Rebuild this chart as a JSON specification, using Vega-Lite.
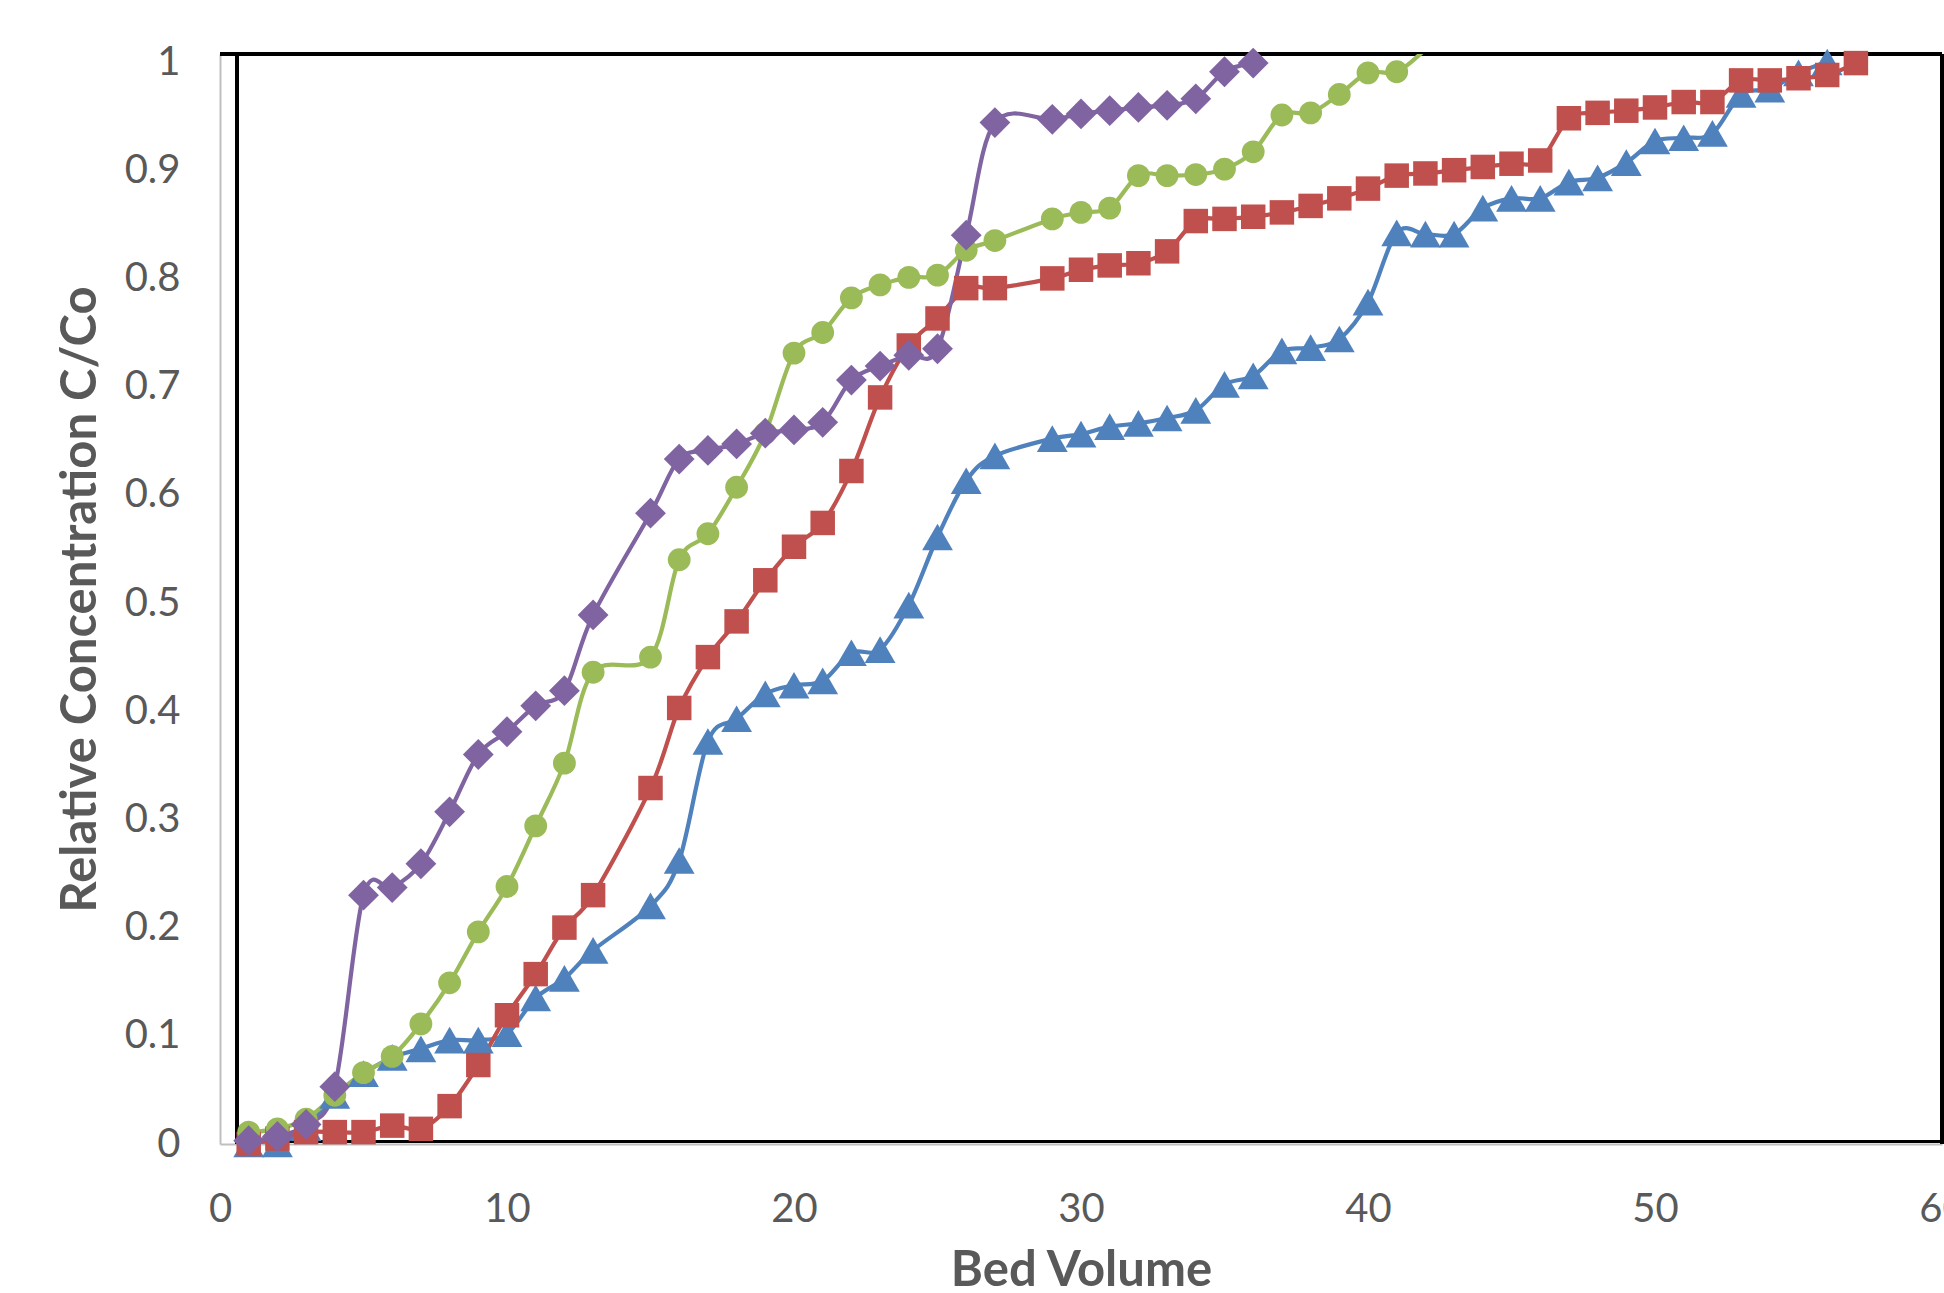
{
  "$schema": "https://vega.github.io/schema/vega-lite/v6.json",
  "width": 1722,
  "height": 1090,
  "autosize": {"type": "none"},
  "padding": {"left": 220, "top": 54, "right": 2, "bottom": 149},
  "background": "white",
  "config": {
    "font": "Lato",
    "view": {"stroke": null},
    "axis": {"grid": false, "ticks": false, "tickSize": 0, "domainColor": "#BFBFBF", "domainWidth": 2, "labelColor": "#595959", "labelFont": "Lato", "labelFontSize": 40, "titleColor": "#595959", "titleFont": "Lato", "titleFontSize": 49, "titleFontWeight": "bold", "labelOverlap": false, "labelFlush": false, "labelBound": false}
  },
  "data": {"values": [
    {"s":"S1","x":1,"c":0},{"s":"S1","x":2,"c":0},{"s":"S1","x":3,"c":0.015},{"s":"S1","x":4,"c":0.045},{"s":"S1","x":5,"c":0.065},{"s":"S1","x":6,"c":0.08},{"s":"S1","x":7,"c":0.088},{"s":"S1","x":8,"c":0.096},{"s":"S1","x":9,"c":0.096},{"s":"S1","x":10,"c":0.102},{"s":"S1","x":11,"c":0.135},{"s":"S1","x":12,"c":0.153},{"s":"S1","x":13,"c":0.179},{"s":"S1","x":15,"c":0.22},{"s":"S1","x":16,"c":0.262},{"s":"S1","x":17,"c":0.372},{"s":"S1","x":18,"c":0.393},{"s":"S1","x":19,"c":0.416},{"s":"S1","x":20,"c":0.424},{"s":"S1","x":21,"c":0.428},{"s":"S1","x":22,"c":0.454},{"s":"S1","x":23,"c":0.457},{"s":"S1","x":24,"c":0.498},{"s":"S1","x":25,"c":0.561},{"s":"S1","x":26,"c":0.613},{"s":"S1","x":27,"c":0.636},{"s":"S1","x":29,"c":0.652},{"s":"S1","x":30,"c":0.656},{"s":"S1","x":31,"c":0.663},{"s":"S1","x":32,"c":0.666},{"s":"S1","x":33,"c":0.671},{"s":"S1","x":34,"c":0.678},{"s":"S1","x":35,"c":0.702},{"s":"S1","x":36,"c":0.71},{"s":"S1","x":37,"c":0.733},{"s":"S1","x":38,"c":0.736},{"s":"S1","x":39,"c":0.744},{"s":"S1","x":40,"c":0.778},{"s":"S1","x":41,"c":0.842},{"s":"S1","x":42,"c":0.841},{"s":"S1","x":43,"c":0.841},{"s":"S1","x":44,"c":0.865},{"s":"S1","x":45,"c":0.874},{"s":"S1","x":46,"c":0.874},{"s":"S1","x":47,"c":0.889},{"s":"S1","x":48,"c":0.893},{"s":"S1","x":49,"c":0.907},{"s":"S1","x":50,"c":0.927},{"s":"S1","x":51,"c":0.93},{"s":"S1","x":52,"c":0.934},{"s":"S1","x":53,"c":0.97},{"s":"S1","x":54,"c":0.975},{"s":"S1","x":55,"c":0.99},{"s":"S1","x":56,"c":1.0},
    {"s":"S2","x":1,"c":0},{"s":"S2","x":2,"c":0.005},{"s":"S2","x":3,"c":0.011},{"s":"S2","x":4,"c":0.011},{"s":"S2","x":5,"c":0.011},{"s":"S2","x":6,"c":0.017},{"s":"S2","x":7,"c":0.014},{"s":"S2","x":8,"c":0.035},{"s":"S2","x":9,"c":0.073},{"s":"S2","x":10,"c":0.119},{"s":"S2","x":11,"c":0.157},{"s":"S2","x":12,"c":0.2},{"s":"S2","x":13,"c":0.23},{"s":"S2","x":15,"c":0.329},{"s":"S2","x":16,"c":0.403},{"s":"S2","x":17,"c":0.45},{"s":"S2","x":18,"c":0.483},{"s":"S2","x":19,"c":0.521},{"s":"S2","x":20,"c":0.552},{"s":"S2","x":21,"c":0.574},{"s":"S2","x":22,"c":0.622},{"s":"S2","x":23,"c":0.69},{"s":"S2","x":24,"c":0.738},{"s":"S2","x":25,"c":0.763},{"s":"S2","x":26,"c":0.791},{"s":"S2","x":27,"c":0.791},{"s":"S2","x":29,"c":0.8},{"s":"S2","x":30,"c":0.808},{"s":"S2","x":31,"c":0.812},{"s":"S2","x":32,"c":0.814},{"s":"S2","x":33,"c":0.825},{"s":"S2","x":34,"c":0.853},{"s":"S2","x":35,"c":0.855},{"s":"S2","x":36,"c":0.857},{"s":"S2","x":37,"c":0.861},{"s":"S2","x":38,"c":0.867},{"s":"S2","x":39,"c":0.874},{"s":"S2","x":40,"c":0.883},{"s":"S2","x":41,"c":0.895},{"s":"S2","x":42,"c":0.897},{"s":"S2","x":43,"c":0.9},{"s":"S2","x":44,"c":0.903},{"s":"S2","x":45,"c":0.906},{"s":"S2","x":46,"c":0.909},{"s":"S2","x":47,"c":0.948},{"s":"S2","x":48,"c":0.953},{"s":"S2","x":49,"c":0.955},{"s":"S2","x":50,"c":0.958},{"s":"S2","x":51,"c":0.963},{"s":"S2","x":52,"c":0.963},{"s":"S2","x":53,"c":0.983},{"s":"S2","x":54,"c":0.983},{"s":"S2","x":55,"c":0.985},{"s":"S2","x":56,"c":0.988},{"s":"S2","x":57,"c":0.999},
    {"s":"S3","x":1,"c":0.011},{"s":"S3","x":2,"c":0.014},{"s":"S3","x":3,"c":0.023},{"s":"S3","x":4,"c":0.045},{"s":"S3","x":5,"c":0.066},{"s":"S3","x":6,"c":0.081},{"s":"S3","x":7,"c":0.111},{"s":"S3","x":8,"c":0.149},{"s":"S3","x":9,"c":0.196},{"s":"S3","x":10,"c":0.238},{"s":"S3","x":11,"c":0.294},{"s":"S3","x":12,"c":0.352},{"s":"S3","x":13,"c":0.436},{"s":"S3","x":15,"c":0.45},{"s":"S3","x":16,"c":0.54},{"s":"S3","x":17,"c":0.564},{"s":"S3","x":18,"c":0.607},{"s":"S3","x":19,"c":0.657},{"s":"S3","x":20,"c":0.731},{"s":"S3","x":21,"c":0.75},{"s":"S3","x":22,"c":0.782},{"s":"S3","x":23,"c":0.794},{"s":"S3","x":24,"c":0.801},{"s":"S3","x":25,"c":0.803},{"s":"S3","x":26,"c":0.826},{"s":"S3","x":27,"c":0.835},{"s":"S3","x":29,"c":0.855},{"s":"S3","x":30,"c":0.861},{"s":"S3","x":31,"c":0.865},{"s":"S3","x":32,"c":0.895},{"s":"S3","x":33,"c":0.895},{"s":"S3","x":34,"c":0.896},{"s":"S3","x":35,"c":0.901},{"s":"S3","x":36,"c":0.917},{"s":"S3","x":37,"c":0.951},{"s":"S3","x":38,"c":0.953},{"s":"S3","x":39,"c":0.97},{"s":"S3","x":40,"c":0.99},{"s":"S3","x":41,"c":0.991},{"s":"S3","x":42,"c":1.012},
    {"s":"S4","x":1,"c":0.003},{"s":"S4","x":2,"c":0.007},{"s":"S4","x":3,"c":0.018},{"s":"S4","x":4,"c":0.053},{"s":"S4","x":5,"c":0.23},{"s":"S4","x":6,"c":0.237},{"s":"S4","x":7,"c":0.259},{"s":"S4","x":8,"c":0.307},{"s":"S4","x":9,"c":0.36},{"s":"S4","x":10,"c":0.381},{"s":"S4","x":11,"c":0.405},{"s":"S4","x":12,"c":0.419},{"s":"S4","x":13,"c":0.489},{"s":"S4","x":15,"c":0.583},{"s":"S4","x":16,"c":0.633},{"s":"S4","x":17,"c":0.641},{"s":"S4","x":18,"c":0.647},{"s":"S4","x":19,"c":0.657},{"s":"S4","x":20,"c":0.66},{"s":"S4","x":21,"c":0.667},{"s":"S4","x":22,"c":0.706},{"s":"S4","x":23,"c":0.719},{"s":"S4","x":24,"c":0.729},{"s":"S4","x":25,"c":0.735},{"s":"S4","x":26,"c":0.84},{"s":"S4","x":27,"c":0.944},{"s":"S4","x":29,"c":0.947},{"s":"S4","x":30,"c":0.952},{"s":"S4","x":31,"c":0.955},{"s":"S4","x":32,"c":0.958},{"s":"S4","x":33,"c":0.96},{"s":"S4","x":34,"c":0.966},{"s":"S4","x":35,"c":0.991},{"s":"S4","x":36,"c":0.999}
  ]},
  "encoding": {
    "x": {"field": "x", "type": "quantitative", "scale": {"domain": [0, 60], "nice": false, "zero": false},
      "axis": {"title": "Bed Volume", "values": [0, 10, 20, 30, 40, 50, 60], "labelBaseline": "alphabetic", "labelPadding": 77, "titleY": 141, "titleBaseline": "alphabetic"}},
    "y": {"field": "c", "type": "quantitative", "scale": {"domain": [0, 1.0074], "nice": false},
      "axis": {"title": "Relative Concentration C/Co", "values": [0, 0.1, 0.2, 0.3, 0.4, 0.5, 0.6, 0.7, 0.8, 0.9, 1], "format": "~g", "labelPadding": 40, "titleX": -125, "titleY": 545, "titleAngle": 270, "titleBaseline": "alphabetic", "titleAlign": "center"}},
    "color": {"field": "s", "type": "nominal", "scale": {"domain": ["S1", "S2", "S3", "S4"], "range": ["#4F81BD", "#C0504D", "#9BBB59", "#8064A2"]}, "legend": null}
  },
  "layer": [
    {"mark": {"type": "rule", "color": "black", "strokeWidth": 2.5}, "encoding": {"x": {"datum": 0.6, "type": "quantitative"}, "y": null, "color": null}},
    {"mark": {"type": "rule", "color": "black", "strokeWidth": 2.5}, "encoding": {"x": {"datum": 60, "type": "quantitative"}, "y": null, "color": null}},
    {"mark": {"type": "rule", "color": "black", "strokeWidth": 2.5}, "encoding": {"y": {"datum": 1.0074, "type": "quantitative"}, "x": null, "color": null}},
    {"mark": {"type": "rule", "color": "black", "strokeWidth": 2.5}, "encoding": {"y": {"datum": 0.0025, "type": "quantitative"}, "x": {"datum": 0.6, "type": "quantitative"}, "x2": {"datum": 60}, "color": null}},
    {
      "mark": {"type": "line", "interpolate": "cardinal", "strokeWidth": 4.2, "clip": true},
      "encoding": {"order": {"field": "x", "type": "quantitative"}}
    },
    {"transform": [{"filter": "datum.s == 'S1'"}], "mark": {"type": "point", "filled": true, "opacity": 1, "strokeWidth": 0, "shape": "triangle-up", "size": 950}},
    {"transform": [{"filter": "datum.s == 'S2'"}], "mark": {"type": "point", "filled": true, "opacity": 1, "strokeWidth": 0, "shape": "square", "size": 600}},
    {"transform": [{"filter": "datum.s == 'S3' && datum.c <= 1.006"}], "mark": {"type": "point", "filled": true, "opacity": 1, "strokeWidth": 0, "shape": "circle", "size": 520}},
    {"transform": [{"filter": "datum.s == 'S4'"}], "mark": {"type": "point", "filled": true, "opacity": 1, "strokeWidth": 0, "shape": "diamond", "size": 950}}
  ]
}
